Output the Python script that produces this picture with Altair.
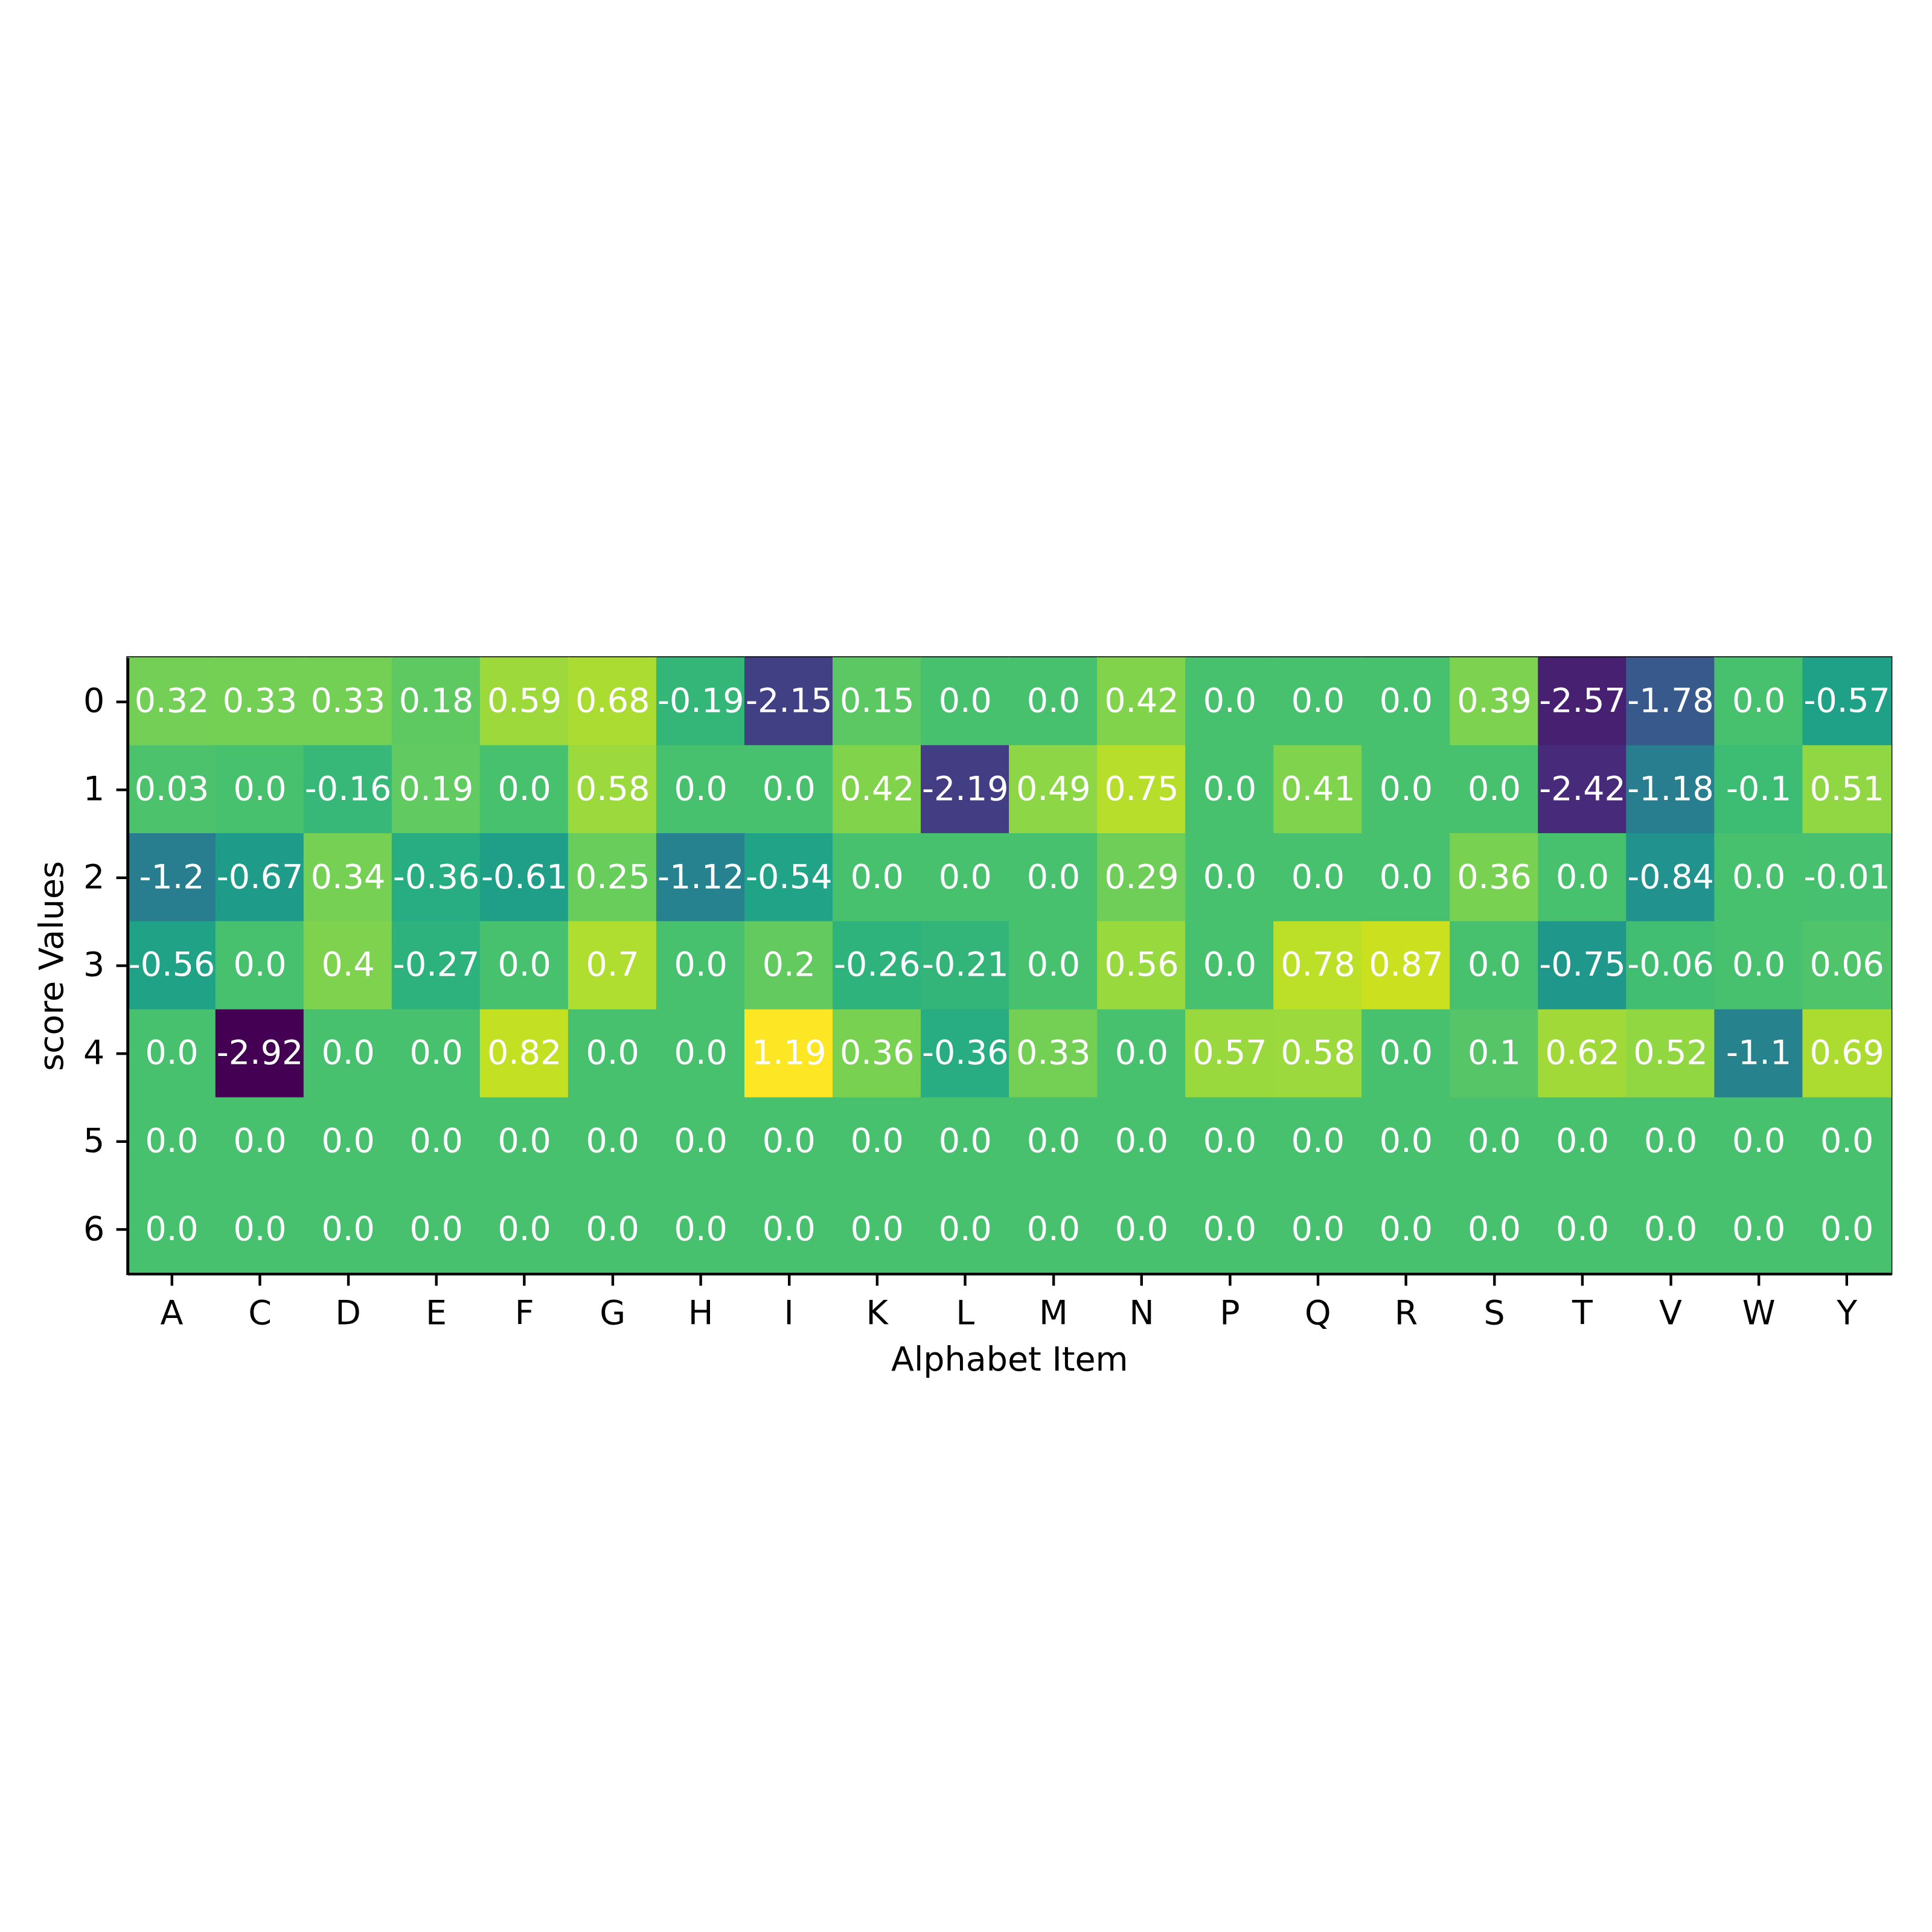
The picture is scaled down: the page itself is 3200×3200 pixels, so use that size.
import altair as alt
import pandas as pd

letters = ["A", "C", "D", "E", "F", "G", "H", "I", "K", "L",
           "M", "N", "P", "Q", "R", "S", "T", "V", "W", "Y"]
rows = ["0", "1", "2", "3", "4", "5", "6"]

row0 = [0.32, 0.33, 0.33, 0.18, 0.59, 0.68, -0.19, -2.15, 0.15, 0.0,
        0.0, 0.42, 0.0, 0.0, 0.0, 0.39, -2.57, -1.78, 0.0, -0.57]
row1 = [0.03, 0.0, -0.16, 0.19, 0.0, 0.58, 0.0, 0.0, 0.42, -2.19,
        0.49, 0.75, 0.0, 0.41, 0.0, 0.0, -2.42, -1.18, -0.1, 0.51]
row2 = [-1.2, -0.67, 0.34, -0.36, -0.61, 0.25, -1.12, -0.54, 0.0, 0.0,
        0.0, 0.29, 0.0, 0.0, 0.0, 0.36, 0.0, -0.84, 0.0, -0.01]
row3 = [-0.56, 0.0, 0.4, -0.27, 0.0, 0.7, 0.0, 0.2, -0.26, -0.21,
        0.0, 0.56, 0.0, 0.78, 0.87, 0.0, -0.75, -0.06, 0.0, 0.06]
row4 = [0.0, -2.92, 0.0, 0.0, 0.82, 0.0, 0.0, 1.19, 0.36, -0.36,
        0.33, 0.0, 0.57, 0.58, 0.0, 0.1, 0.62, 0.52, -1.1, 0.69]
row5 = [0.0] * 20
row6 = [0.0] * 20

matrix = [row0, row1, row2, row3, row4, row5, row6]

records = []
for r, vals in zip(rows, matrix):
    for l, v in zip(letters, vals):
        records.append({"item": l, "score": r, "value": v, "label": str(float(v))})
df = pd.DataFrame(records)

vmin = min(min(v) for v in matrix)
vmax = max(max(v) for v in matrix)

FS = 55.6
LW = 4.4

x_enc = alt.X("item:N", sort=letters, title="Alphabet Item",
              scale=alt.Scale(paddingInner=0, paddingOuter=0),
              axis=alt.Axis(labelAngle=0, labelFontSize=FS, titleFontSize=FS,
                            labelFont="DejaVu Sans", titleFont="DejaVu Sans",
                            titleFontWeight="normal", labelColor="black", titleColor="black",
                            domainColor="black", domainWidth=LW, tickColor="black",
                            tickWidth=LW, tickSize=19.4, labelPadding=19.4,
                            titlePadding=22, grid=False))
y_enc = alt.Y("score:N", sort=rows, title="score Values",
              scale=alt.Scale(paddingInner=0, paddingOuter=0),
              axis=alt.Axis(labelFontSize=FS, titleFontSize=FS,
                            labelFont="DejaVu Sans", titleFont="DejaVu Sans",
                            titleFontWeight="normal", labelColor="black", titleColor="black",
                            domainColor="black", domainWidth=LW, tickColor="black",
                            tickWidth=LW, tickSize=19.4, labelPadding=19.4,
                            titlePadding=22, grid=False))

cscale = alt.Scale(scheme="viridis", domain=[vmin, vmax])

base = alt.Chart(df)
rects = base.mark_rect(strokeWidth=1.5).encode(
    x=x_enc, y=y_enc,
    color=alt.Color("value:Q", scale=cscale, legend=None),
    stroke=alt.Stroke("value:Q", scale=cscale, legend=None),
)
texts = base.mark_text(color="white", fontSize=FS, font="DejaVu Sans",
                       align="center", baseline="middle").encode(
    x=alt.X("item:N", sort=letters),
    y=alt.Y("score:N", sort=rows),
    text="label:N",
)

chart = (rects + texts).properties(
    width=2928, height=1023,
    autosize=alt.AutoSizeParams(type="none"),
    padding={"left": 204, "top": 1080, "right": 60, "bottom": 1080},
).configure_view(stroke="black", strokeWidth=LW)

chart.save("out.html", embed_options={"renderer": "svg", "actions": False})
